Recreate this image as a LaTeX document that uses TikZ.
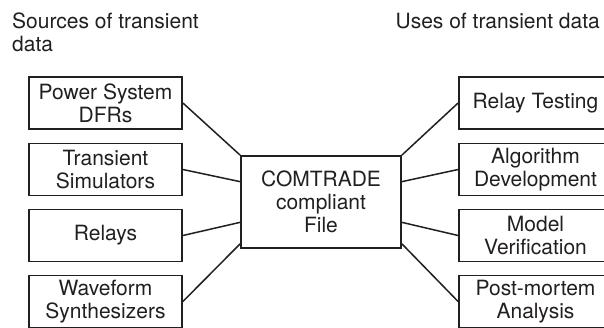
\documentclass[tikz,border=0pt]{standalone}
\usepackage{fontspec}
\setmainfont{TeX Gyre Heros}
\usetikzlibrary{calc}
\definecolor{ink}{HTML}{231F20}
\begin{document}
\begin{tikzpicture}[x=1pt,y=-1pt,
  every node/.style={text=ink, font=\fontsize{21}{23}\selectfont},
  srcbox/.style={draw=ink, line width=1.8pt, minimum width=153pt, minimum height=52pt, inner sep=0pt, align=center},
  mainbox/.style={draw=ink, line width=1.8pt, minimum width=160pt, minimum height=92pt, inner sep=0pt, align=center},
  link/.style={draw=ink, line width=1.5pt},
  title/.style={inner sep=0pt, align=left}]
\useasboundingbox (0,0) rectangle (604,327);
\clip (0,0) rectangle (604,327);
\fill[white] (0,0) rectangle (604,327);

\node[title, anchor=north west] (tl) at (12,13) {Sources of transient\\data};
\node[title, anchor=north east] (tr) at (600,13) {Uses of transient data};

\node[srcbox] (s1) at (105.5,103) {Power System\\DFRs};
\node[srcbox] (s2) at (105.5,169.5) {Transient\\Simulators};
\node[srcbox] (s3) at (105.5,235.5) {Relays};
\node[srcbox] (s4) at (105.5,301.5) {Waveform\\Synthesizers};

\node[srcbox] (u1) at (535.5,103) {Relay Testing};
\node[srcbox] (u2) at (535.5,169.5) {Algorithm\\Development};
\node[srcbox] (u3) at (535.5,235.5) {Model\\Verification};
\node[srcbox] (u4) at (535.5,301.5) {Post-mortem\\Analysis};

\node[mainbox] (c) at (321,202) {COMTRADE\\compliant\\File};

\coordinate (l1) at (c.north west);
\coordinate (l2) at ($(c.north west)!0.283!(c.south west)$);
\coordinate (l3) at ($(c.north west)!0.717!(c.south west)$);
\coordinate (l4) at ($(c.north west)!0.946!(c.south west)$);
\coordinate (r1) at (c.north east);
\coordinate (r2) at ($(c.north east)!0.283!(c.south east)$);
\coordinate (r3) at ($(c.north east)!0.717!(c.south east)$);
\coordinate (r4) at ($(c.north east)!0.946!(c.south east)$);

\draw[link] (s1.east) -- (l1);
\draw[link] (s2.east) -- (l2);
\draw[link] (s3.east) -- (l3);
\draw[link] (s4.east) -- (l4);
\draw[link] (u1.west) -- (r1);
\draw[link] (u2.west) -- (r2);
\draw[link] (u3.west) -- (r3);
\draw[link] (u4.west) -- (r4);
\end{tikzpicture}
\end{document}
